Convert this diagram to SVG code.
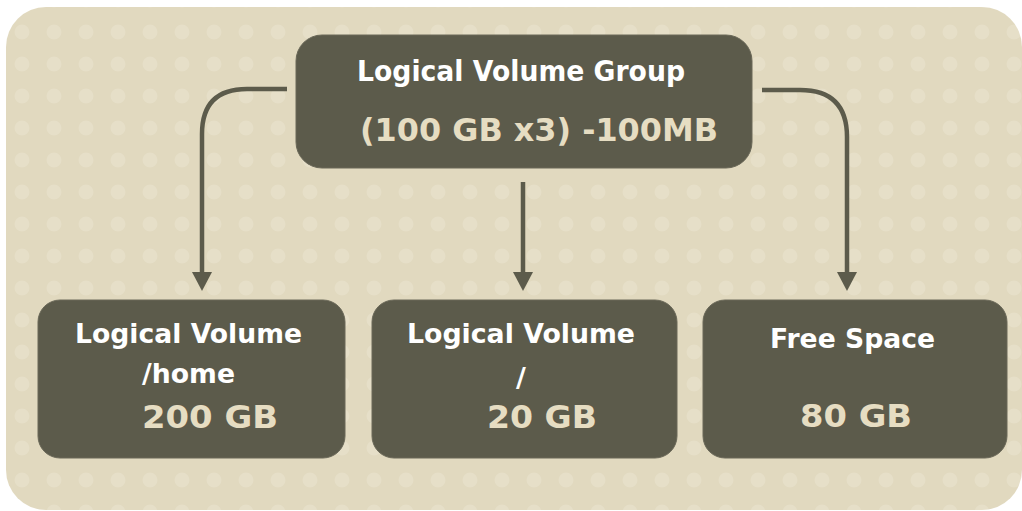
<svg xmlns="http://www.w3.org/2000/svg" width="1022" height="511" viewBox="0 0 1022 511">
<style>
.box{fill:#5c5b4b;stroke:#6a6858;stroke-width:1}
.t{font-family:"DejaVu Sans",sans-serif;font-weight:bold;fill:#ffffff}
.n{font-family:"DejaVu Sans",sans-serif;font-weight:bold;fill:#e6ddc2}
.c{fill:none;stroke:#5c5b4b;stroke-width:4.5}
.ah{fill:#5c5b4b}
</style>
<defs>
<pattern id="dots" patternUnits="userSpaceOnUse" x="6" y="16" width="32" height="32">
<rect width="32" height="32" fill="#e1d9bf"/>
<circle cx="16" cy="16" r="7.5" fill="#e6dfc8"/>
</pattern>
</defs>
<rect x="0" y="0" width="1022" height="511" fill="#ffffff"/>
<rect x="6" y="7" width="1016" height="503" rx="40" ry="40" fill="url(#dots)"/>
<g id="connectors">
<path class="c" d="M287,89 L247,89 Q202,89 202,134 L202,273"/>
<path class="ah" d="M192,272 L212,272 L202,291 Z"/>
<path class="c" d="M523,182 L523,273"/>
<path class="ah" d="M513,272 L533,272 L523,291 Z"/>
<path class="c" d="M762,90 L800,90 Q847,90 847,137 L847,273"/>
<path class="ah" d="M837,272 L857,272 L847,291 Z"/>
</g>
<g id="vg">
<rect class="box" x="296" y="35" width="456" height="133" rx="26"/>
<text class="t" x="357" y="81" font-size="29" textLength="328" lengthAdjust="spacingAndGlyphs">Logical Volume Group</text>
<text class="n" x="360" y="141" font-size="32" textLength="358" lengthAdjust="spacingAndGlyphs">(100 GB x3) -100MB</text>
</g>
<g id="lv-home">
<rect class="box" x="38" y="300" width="307" height="158" rx="22"/>
<text class="t" x="75" y="343" font-size="27" textLength="227" lengthAdjust="spacingAndGlyphs">Logical Volume</text>
<text class="t" x="142" y="383" font-size="27" textLength="93" lengthAdjust="spacingAndGlyphs">/home</text>
<text class="n" x="142" y="428" font-size="32" textLength="136" lengthAdjust="spacingAndGlyphs">200 GB</text>
</g>
<g id="lv-root">
<rect class="box" x="372" y="300" width="305" height="158" rx="22"/>
<text class="t" x="407" y="343" font-size="27" textLength="228" lengthAdjust="spacingAndGlyphs">Logical Volume</text>
<text class="t" x="516" y="387" font-size="27">/</text>
<text class="n" x="487" y="428" font-size="32" textLength="110" lengthAdjust="spacingAndGlyphs">20 GB</text>
</g>
<g id="free">
<rect class="box" x="703" y="300" width="304" height="158" rx="22"/>
<text class="t" x="770" y="348" font-size="27" textLength="165" lengthAdjust="spacingAndGlyphs">Free Space</text>
<text class="n" x="800" y="427" font-size="32" textLength="112" lengthAdjust="spacingAndGlyphs">80 GB</text>
</g>
</svg>
